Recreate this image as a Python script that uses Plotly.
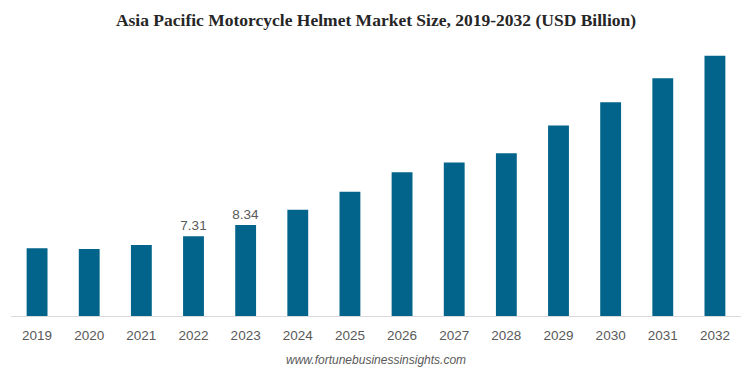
import plotly.graph_objects as go

years = ["2019", "2020", "2021", "2022", "2023", "2024", "2025", "2026",
         "2027", "2028", "2029", "2030", "2031", "2032"]
values = [6.21, 6.15, 6.51, 7.31, 8.34, 9.75, 11.38, 13.18,
          14.07, 14.92, 17.46, 19.60, 21.80, 23.85]
label_years = ["2022", "2023"]

texts = [f"{v:.2f}" if y in label_years else "" for y, v in zip(years, values)]

fig = go.Figure()
fig.add_trace(go.Bar(
    x=years, y=values,
    marker=dict(color="#03648b", line=dict(width=0)),
    text=texts, textposition="outside", constraintext="none",
    textfont=dict(family="Liberation Sans, Arial, sans-serif", size=13.5, color="#595959"),
    cliponaxis=False,
    hoverinfo="x+y",
))

fig.update_layout(
    width=745, height=372,
    margin=dict(l=11, r=4, t=40, b=56),
    paper_bgcolor="white", plot_bgcolor="white",
    bargap=0.6,
    showlegend=False,
    title=dict(
        text="<b>Asia Pacific Motorcycle Helmet Market Size, 2019-2032 (USD Billion)</b>",
        x=0.5, xanchor="center", xref="paper",
        y=1 - 20 / 372, yanchor="middle", yref="container",
        font=dict(family="Liberation Serif, Times New Roman, serif", size=17.5, color="#262626"),
    ),
    xaxis=dict(
        showgrid=False, showline=True, linecolor="#d9d9d9", linewidth=1,
        ticks="", ticklabelstandoff=7,
        tickfont=dict(family="Liberation Sans, Arial, sans-serif", size=13.5, color="#595959"),
        fixedrange=True,
    ),
    yaxis=dict(
        range=[0, 25.3], visible=False, showgrid=False, zeroline=False,
    ),
    annotations=[dict(
        text="<i>www.fortunebusinessinsights.com</i>",
        xref="paper", yref="paper", x=0.5, y=-44 / 276,
        xanchor="center", yanchor="middle", showarrow=False,
        font=dict(family="Liberation Sans, Arial, sans-serif", size=12, color="#595959"),
    )],
)

fig.write_html("out.html")
